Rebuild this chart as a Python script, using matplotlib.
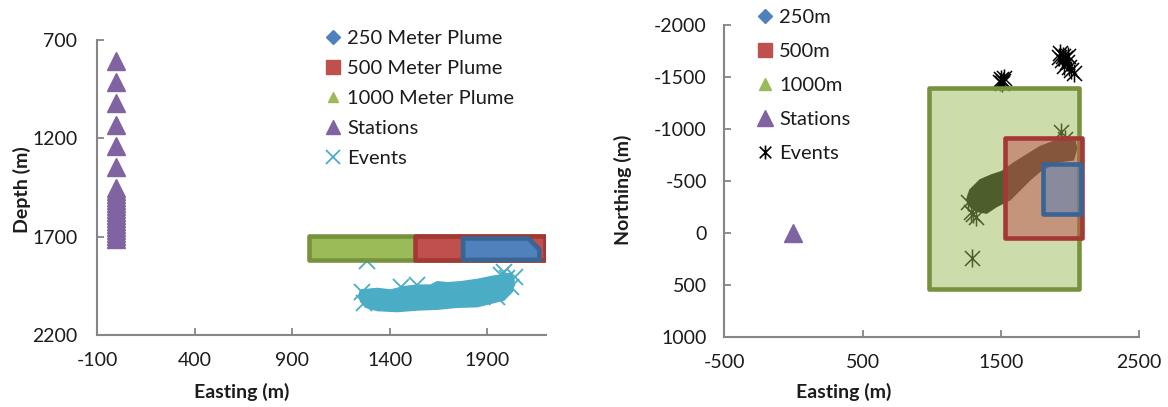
import matplotlib.pyplot as plt
from matplotlib.colors import to_rgb
from matplotlib.lines import Line2D
from matplotlib.patches import Polygon
from matplotlib.path import Path

plt.rcParams['font.family'] = ['Lato', 'DejaVu Sans']
plt.rcParams['axes.unicode_minus'] = False

# ---- side view: easting vs depth ----
station_depth = [805, 912, 1022, 1132, 1239, 1344,
                 1455, 1470, 1485, 1500, 1515, 1530, 1545, 1560, 1575,
                 1590, 1605, 1620, 1635, 1650, 1665, 1680, 1695, 1710]
station_east = [0] * len(station_depth)

side_green_e = [986, 2190, 2190, 986]
side_green_d = [1695, 1695, 1819, 1819]
side_red_e = [1527, 2195, 2195, 1527]
side_red_d = [1695, 1695, 1819, 1819]
side_blue_e = [1775, 2110, 2166, 2166, 1775]
side_blue_d = [1709, 1709, 1765, 1818, 1818]

# outline of the dense event cloud, plus the loose events around it
side_cloud_e = [1250, 1336, 1404, 1472, 1541, 1609, 1643, 1695, 1763, 1849, 1917,
                1968, 2019, 2037, 2028, 1985, 1917, 1849, 1746, 1643, 1541, 1438,
                1336, 1276, 1250, 1242]
side_cloud_d = [1971, 1963, 1971, 1954, 1946, 1946, 1929, 1934, 1929, 1917, 1903,
                1895, 1886, 1920, 1979, 2022, 2039, 2056, 2059, 2069, 2073, 2081,
                2076, 2059, 2030, 1996]
side_event_e = [1285, 1968, 2002, 2019, 1917, 1951, 1259, 1267, 1455, 1541, 1985, 2040]
side_event_d = [1822, 1895, 1912, 1954, 1954, 2005, 1979, 2039, 1954, 1946, 1880, 1905]

# ---- map view: easting vs northing ----
map_station_e = [0]
map_station_n = [0]

map_green_e = [980, 2065, 2065, 980]
map_green_n = [-1395, -1395, 540, 540]
map_red_e = [1530, 2083, 2083, 1530]
map_red_n = [-912, -912, 51, 51]
map_blue_e = [1804, 2079, 2079, 1804]
map_blue_n = [-665, -665, -180, -180]

map_cloud_e = [1276, 1349, 1433, 1506, 1590, 1686, 1783, 1879, 1975, 2036, 2048,
               2024, 1927, 1795, 1710, 1638, 1566, 1469, 1397, 1325, 1276, 1252]
map_cloud_n = [-415, -511, -559, -591, -671, -751, -831, -879, -895, -879, -815,
               -703, -687, -607, -511, -415, -319, -255, -191, -207, -255, -319]
map_event_e = [1930, 1950, 1965, 1940, 1975, 1955, 1990, 2010, 2030, 1920, 1985,
               1500, 1515, 1525, 1510, 1490,
               1935, 1300, 1320, 1280, 1290, 1262, 1960]
map_event_n = [-1730, -1700, -1680, -1660, -1640, -1610, -1600, -1570, -1540, -1690, -1700,
               -1480, -1465, -1490, -1440, -1455,
               -970, -180, -150, -200, 240, -300, -900]

GREEN, GREEN_EDGE = '#9BBB59', '#76923C'
RED, RED_EDGE = '#C0504D', '#A33835'
BLUE, BLUE_EDGE = '#4F81BD', '#3A6494'
PURPLE = '#8064A2'
CYAN = '#4BACC6'
AXIS_GREY = '#868686'
TXT = '#1c1c1c'

# excel style star: an x with a vertical stroke
star = Path([(-1, -1), (1, 1), (-1, 1), (1, -1), (0, -1.2), (0, 1.2)],
            [Path.MOVETO, Path.LINETO, Path.MOVETO, Path.LINETO, Path.MOVETO, Path.LINETO])


def style_axes(ax, ypad):
    for s in ['top', 'right']:
        ax.spines[s].set_visible(False)
    for s in ['left', 'bottom']:
        ax.spines[s].set_color(AXIS_GREY)
        ax.spines[s].set_linewidth(1.5)
    ax.tick_params(direction='in', length=5, width=1.3, color=AXIS_GREY,
                   labelsize=14, labelcolor=TXT)
    ax.tick_params(axis='y', pad=ypad)
    ax.tick_params(axis='x', pad=12)


fig = plt.figure(figsize=(11.68, 4.07), dpi=100)

# left panel
ax1 = fig.add_axes([0.0830, 0.1769, 0.3845, 0.7248])
ax1.add_patch(Polygon(list(zip(side_cloud_e, side_cloud_d)), closed=True,
                      facecolor=CYAN, edgecolor=CYAN, lw=1, zorder=1))
ax1.plot(side_event_e, side_event_d, ls='none', marker='x', ms=11, mew=1.3,
         color=CYAN, zorder=1)
for e, d, fc, ec in [(side_green_e, side_green_d, GREEN, GREEN_EDGE),
                     (side_red_e, side_red_d, RED, RED_EDGE),
                     (side_blue_e, side_blue_d, BLUE, BLUE_EDGE)]:
    ax1.add_patch(Polygon(list(zip(e, d)), closed=True, facecolor=fc,
                          edgecolor=ec, lw=3.3, joinstyle='round', zorder=3))
ax1.plot(station_east, station_depth, ls='none', marker='^', ms=13,
         color=PURPLE, zorder=4)
ax1.set_xlim(-100, 2200)
ax1.set_ylim(2200, 700)
ax1.set_xticks([-100, 400, 900, 1400, 1900])
ax1.set_yticks([700, 1200, 1700, 2200])
style_axes(ax1, 14)

side_handles = [
    Line2D([], [], ls='none', marker='D', ms=7, color=BLUE),
    Line2D([], [], ls='none', marker='s', ms=10, color=RED),
    Line2D([], [], ls='none', marker='^', ms=7, color=GREEN),
    Line2D([], [], ls='none', marker='^', ms=10, color=PURPLE),
    Line2D([], [], ls='none', marker='x', ms=10, mew=1.3, color=CYAN),
]
side_labels = ['250 Meter Plume', '500 Meter Plume', '1000 Meter Plume', 'Stations', 'Events']
fig.legend(side_handles, side_labels, loc='upper left',
           bbox_to_anchor=(325 / 1168, 1 - 30 / 407), frameon=False,
           fontsize=14.5, labelcolor=TXT, handlelength=0.8, handletextpad=0.3,
           labelspacing=0.64, borderpad=0, borderaxespad=0)

# right panel
ax2 = fig.add_axes([0.6201, 0.1720, 0.3553, 0.7666])
ax2.add_patch(Polygon(list(zip(map_cloud_e, map_cloud_n)), closed=True,
                      facecolor='black', edgecolor='black', lw=1, zorder=1))
ax2.plot(map_event_e, map_event_n, ls='none', marker=star, ms=13, mew=1.1,
         color='black', zorder=1)
# translucent plume fills let the events show through, outlines stay solid
for e, n, fc, ec, z in [(map_green_e, map_green_n, GREEN, GREEN_EDGE, 2),
                        (map_red_e, map_red_n, RED, RED_EDGE, 3),
                        (map_blue_e, map_blue_n, BLUE, BLUE_EDGE, 4)]:
    ax2.add_patch(Polygon(list(zip(e, n)), closed=True,
                          facecolor=(*to_rgb(fc), 0.5), edgecolor='none', zorder=z))
    ax2.add_patch(Polygon(list(zip(e, n)), closed=True, facecolor='none',
                          edgecolor=ec, lw=3.3, joinstyle='round', zorder=z))
ax2.plot(map_station_e, map_station_n, ls='none', marker='^', ms=13,
         color=PURPLE, zorder=5)
ax2.set_xlim(-500, 2500)
ax2.set_ylim(1000, -2000)
ax2.set_xticks([-500, 500, 1500, 2500])
ax2.set_yticks([-2000, -1500, -1000, -500, 0, 500, 1000])
style_axes(ax2, 12.5)

map_handles = [
    Line2D([], [], ls='none', marker='D', ms=7, color=BLUE),
    Line2D([], [], ls='none', marker='s', ms=10, color=RED),
    Line2D([], [], ls='none', marker='^', ms=8, color=GREEN),
    Line2D([], [], ls='none', marker='^', ms=11, color=PURPLE),
    Line2D([], [], ls='none', marker=star, ms=10, mew=1.2, color='black'),
]
map_labels = ['250m', '500m', '1000m', 'Stations', 'Events']
fig.legend(map_handles, map_labels, loc='upper left',
           bbox_to_anchor=(757 / 1168, 1 - 9 / 407), frameon=False,
           fontsize=14.5, labelcolor=TXT, handlelength=0.8, handletextpad=0.3,
           labelspacing=0.84, borderpad=0, borderaxespad=0)

# axis titles sit where they were placed by hand, not centred
fig.text(0.2069, 0.0376, 'Easting (m)', ha='center', va='center',
         fontsize=14, fontweight='bold', color=TXT)
fig.text(0.7226, 0.0376, 'Easting (m)', ha='center', va='center',
         fontsize=14, fontweight='bold', color=TXT)
fig.text(0.0186, 0.5332, 'Depth (m)', ha='center', va='center', rotation=90,
         fontsize=14, fontweight='bold', color=TXT)
fig.text(0.5337, 0.5332, 'Northing (m)', ha='center', va='center', rotation=90,
         fontsize=14, fontweight='bold', color=TXT)

fig.savefig('out.png', dpi=100)
